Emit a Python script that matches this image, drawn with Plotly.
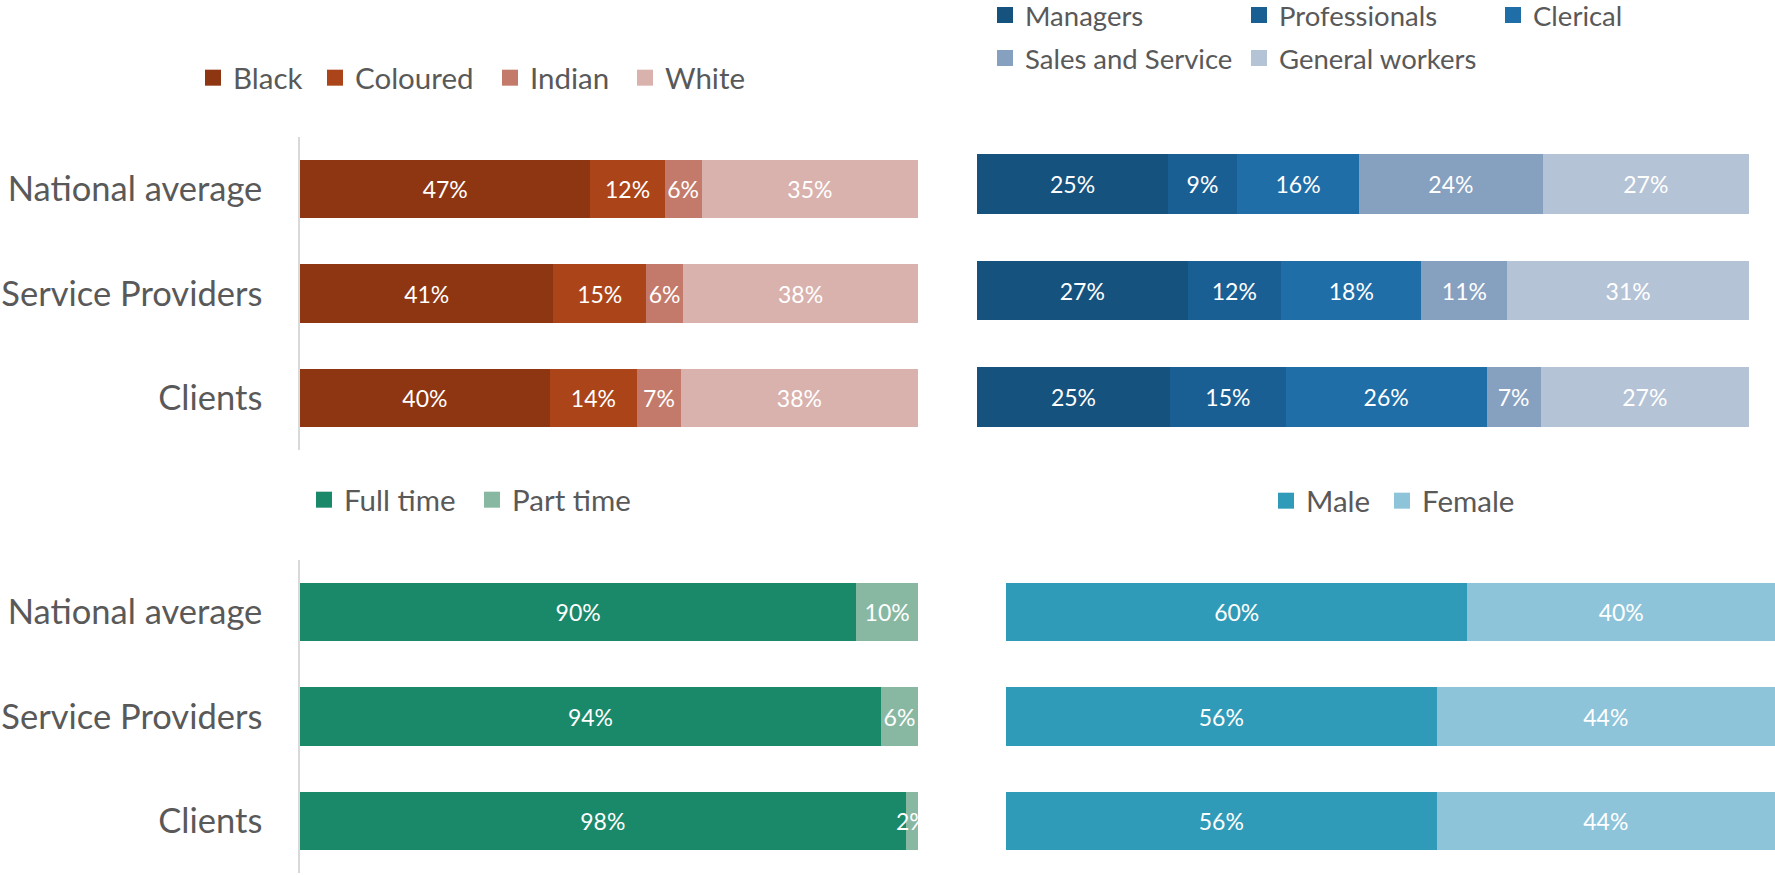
import plotly.graph_objects as go

# Row labels shared by all four panels (top row first)
groups = ["National average", "Service Providers", "Clients"]

# Population group
race_names = ["Black", "Coloured", "Indian", "White"]
race_values = [
    [47, 41, 40],   # Black
    [12, 15, 14],   # Coloured
    [6, 6, 7],      # Indian
    [35, 38, 38],   # White
]
race_colors = ["#8E3512", "#AB4519", "#C47A6A", "#D9B2AD"]

# Occupation
occ_names = ["Managers", "Professionals", "Clerical", "Sales and Service", "General workers"]
occ_values = [
    [25, 27, 25],   # Managers
    [9, 12, 15],    # Professionals
    [16, 18, 26],   # Clerical
    [24, 11, 7],    # Sales and Service
    [27, 31, 27],   # General workers
]
occ_colors = ["#16527E", "#1A5F94", "#1F6EA8", "#86A0C0", "#B5C3D6"]

# Employment type
emp_names = ["Full time", "Part time"]
emp_values = [
    [90, 94, 98],
    [10, 6, 2],
]
emp_colors = ["#1A896A", "#88B8A2"]

# Gender
gen_names = ["Male", "Female"]
gen_values = [
    [60, 56, 56],
    [40, 44, 44],
]
gen_colors = ["#309BB8", "#8DC4DA"]

FONT = "Lato, 'Open Sans', sans-serif"
TXT = "#595959"
W, H = 1775, 875

# Legend entry placement (pixel centre of each swatch), one legend per entry
race_key_pos = [(214, 78), (336, 78), (511, 78), (646, 78)]
occ_key_pos = [(1006, 15), (1260, 15), (1514, 15), (1006, 58), (1260, 58)]
emp_key_pos = [(325, 500), (493, 500)]
gen_key_pos = [(1287, 501), (1403, 501)]

fig = go.Figure()
legend_layout = {}
legend_count = [0]


def px_x(p):
    return p / W


def px_y(p):
    return 1 - p / H


def new_legend(cx, cy, size):
    legend_count[0] += 1
    key = "legend" if legend_count[0] == 1 else f"legend{legend_count[0]}"
    legend_layout[key] = dict(
        orientation="h",
        x=px_x(cx - 21), y=px_y(cy), xanchor="left", yanchor="middle",
        font=dict(size=size, color=TXT, family=FONT),
        bgcolor="rgba(0,0,0,0)",
        borderwidth=0,
    )
    return key


def add_panel(names, values, colors, ax, key_pos, key_font):
    xa, ya = ("x", "y") if ax == 1 else (f"x{ax}", f"y{ax}")
    for name, vals, col, (cx, cy) in zip(names, values, colors, key_pos):
        fig.add_trace(go.Bar(
            orientation="h",
            y=groups,
            x=vals,
            name=name,
            marker=dict(color=col, line=dict(width=0)),
            text=[f"{v}%" for v in vals],
            textposition="inside",
            insidetextanchor="middle",
            textangle=0,
            constraintext="none",
            textfont=dict(color="white", size=23, family=FONT),
            showlegend=False,
            xaxis=xa,
            yaxis=ya,
        ))
        # square swatch for the legend entry
        fig.add_trace(go.Scatter(
            x=[None], y=[None], mode="markers", name=name,
            marker=dict(symbol="square", size=16, color=col, line=dict(width=0)),
            xaxis=xa, yaxis=ya,
            legend=new_legend(cx, cy, key_font),
            hoverinfo="skip",
        ))


add_panel(race_names, race_values, race_colors, 1, race_key_pos, 29.5)
add_panel(occ_names, occ_values, occ_colors, 2, occ_key_pos, 27.5)
add_panel(emp_names, emp_values, emp_colors, 3, emp_key_pos, 29.5)
add_panel(gen_names, gen_values, gen_colors, 4, gen_key_pos, 29.5)


def xaxis_cfg(x0, x1, anchor):
    return dict(domain=[px_x(x0), px_x(x1)], range=[0, 100], visible=False,
                anchor=anchor, fixedrange=True)


def yaxis_cfg(top, bottom, anchor, labels):
    return dict(
        domain=[px_y(bottom), px_y(top)],
        anchor=anchor,
        autorange="reversed",
        showgrid=False,
        zeroline=False,
        showline=labels,
        linecolor="#D9D9D9",
        linewidth=1.5,
        showticklabels=labels,
        ticks="",
        ticklabelstandoff=29,
        tickfont=dict(size=34.5, color=TXT, family=FONT),
        fixedrange=True,
    )


fig.update_layout(
    width=W, height=H,
    margin=dict(l=0, r=0, t=0, b=0, autoexpand=False),
    paper_bgcolor="white",
    plot_bgcolor="white",
    barmode="stack",
    barnorm="percent",
    bargap=0.44,
    font=dict(family=FONT, color=TXT),
    xaxis=xaxis_cfg(300, 918, "y"),
    yaxis=yaxis_cfg(137, 450, "x", True),
    xaxis2=xaxis_cfg(977, 1749, "y2"),
    yaxis2=yaxis_cfg(131, 450, "x2", False),
    xaxis3=xaxis_cfg(300, 918, "y3"),
    yaxis3=yaxis_cfg(560, 873, "x3", True),
    xaxis4=xaxis_cfg(1006, 1775, "y4"),
    yaxis4=yaxis_cfg(560, 873, "x4", False),
    showlegend=True,
    **legend_layout,
)

fig.write_html("out.html")
